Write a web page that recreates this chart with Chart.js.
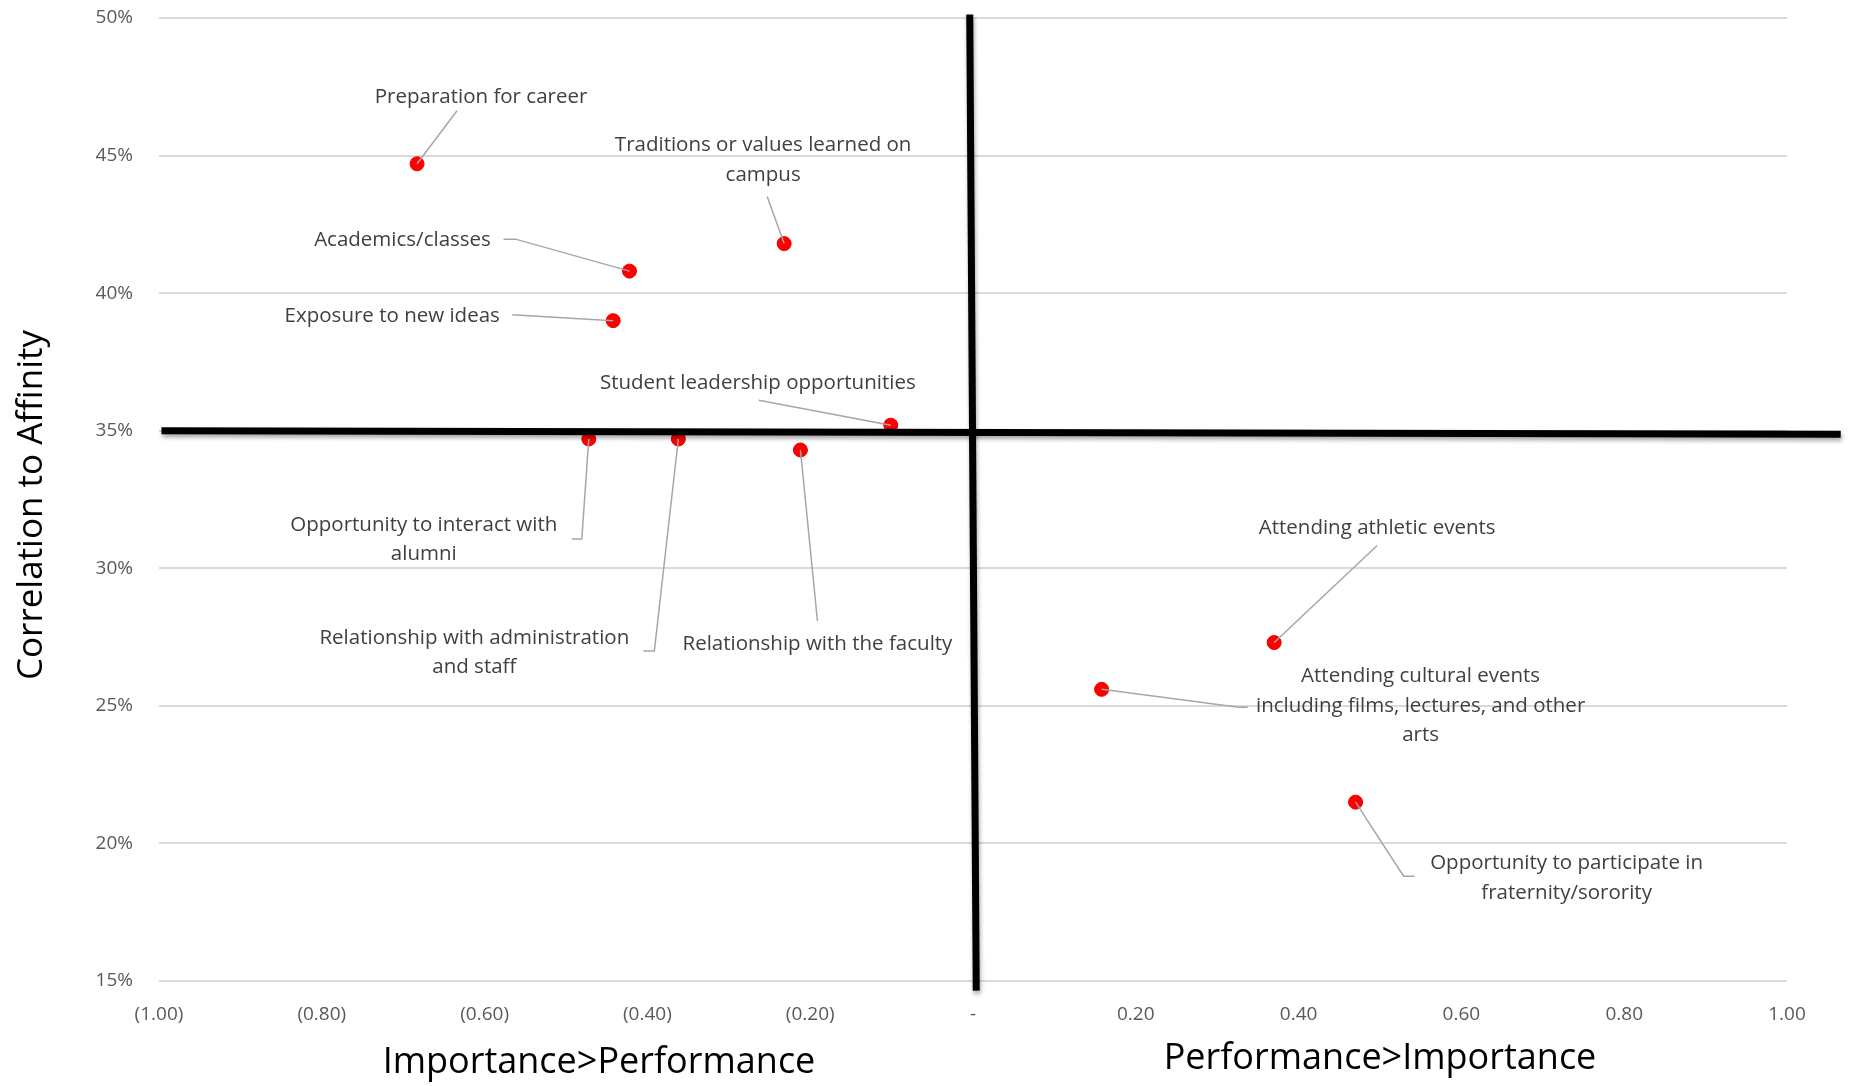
<!DOCTYPE html>
<html>
<head>
  <title>Importance vs Performance</title>
  <script src="https://cdn.jsdelivr.net/npm/chart.js"></script>
  <style>
    body {
      margin: 0;
      background: #fff;
    }
    canvas {
      display: block;
    }
  </style>
</head>
<body>
  <canvas id="quadChart" width="1850" height="1086"></canvas>

  <script>
    // --- data ---
    const items = [
      'Preparation for career',
      'Traditions or values learned on campus',
      'Academics/classes',
      'Exposure to new ideas',
      'Student leadership opportunities',
      'Opportunity to interact with alumni',
      'Relationship with administration and staff',
      'Relationship with the faculty',
      'Attending athletic events',
      'Attending cultural events including films, lectures, and other arts',
      'Opportunity to participate in fraternity/sorority'
    ];
    // performance minus importance
    const gap = [-0.683, -0.232, -0.422, -0.442, -0.101, -0.472, -0.362, -0.212, 0.370, 0.158, 0.470];
    const correlation = [0.447, 0.418, 0.408, 0.390, 0.352, 0.347, 0.347, 0.343, 0.273, 0.256, 0.215];

    // quadrant dividers (hand drawn in the original, a little tilted)
    const hLineX = [-0.997, 1.066];
    const hLineY = [0.350, 0.3487];
    const vLineX = [-0.004, 0.004];
    const vLineY = [0.5013, 0.1465];

    const yTitle = 'Correlation to Affinity';
    const xTitles = ['Importance>Performance', 'Performance>Importance'];

    // --- label placement (pixel offsets from each point) ---
    const callouts = [
      { dx: 64, dy: -67, leader: [[40, -53]] },
      { dx: -21, dy: -98, breaks: [5], leader: [[-17, -47]] },
      { dx: -227, dy: -31, leader: [[-114, -32], [-126, -32]] },
      { dx: -221, dy: -5, leader: [[-101, -6]] },
      { dx: -133, dy: -42, leader: [[-132, -25]] },
      { dx: -165, dy: 86, breaks: [4], leader: [[-7, 100], [-17, 100]] },
      { dx: -204, dy: 199, breaks: [3], leader: [[-24, 212], [-35, 212]] },
      { dx: 17, dy: 194, leader: [[17, 171]] },
      { dx: 103, dy: -114, leader: [[103, -97]] },
      { dx: 319, dy: -13, breaks: [3, 8], leader: [[137, 18], [146, 18]] },
      { dx: 211, dy: 61, breaks: [4], leader: [[48, 74], [59, 74]] }
    ];

    const FONT = '"Open Sans", "Noto Sans", sans-serif';

    function splitLines(text, breaks) {
      if (!breaks) return [text];
      const words = text.split(' ');
      const out = [];
      let start = 0;
      breaks.concat([words.length]).forEach(b => {
        out.push(words.slice(start, b).join(' '));
        start = b;
      });
      return out;
    }

    const calloutPlugin = {
      id: 'callouts',
      beforeDatasetDraw(chart, args) {
        if (args.meta.dataset && chart.data.datasets[args.index].shadow) {
          const ctx = chart.ctx;
          ctx.save();
          ctx.shadowColor = 'rgba(0,0,0,0.35)';
          ctx.shadowBlur = 4;
          ctx.shadowOffsetX = 1;
          ctx.shadowOffsetY = 3;
        }
      },
      afterDatasetDraw(chart, args) {
        if (args.meta.dataset && chart.data.datasets[args.index].shadow) {
          chart.ctx.restore();
        }
      },
      afterDraw(chart) {
        const ctx = chart.ctx;
        const meta = chart.getDatasetMeta(2);
        ctx.save();
        ctx.font = '20.5px ' + FONT;
        ctx.textAlign = 'center';
        ctx.textBaseline = 'middle';
        meta.data.forEach((pt, i) => {
          const c = callouts[i];
          // leader line
          ctx.strokeStyle = '#a6a6a6';
          ctx.lineWidth = 1.5;
          ctx.beginPath();
          ctx.moveTo(pt.x, pt.y);
          c.leader.forEach(p => ctx.lineTo(pt.x + p[0], pt.y + p[1]));
          ctx.stroke();
          // text
          ctx.fillStyle = '#404040';
          splitLines(items[i], c.breaks).forEach((line, k) => {
            ctx.fillText(line, pt.x + c.dx, pt.y + c.dy + k * 29.5);
          });
        });

        // axis titles
        ctx.fillStyle = '#000';
        ctx.font = '36px ' + FONT;
        ctx.fillText(xTitles[0], 599, 1063);
        ctx.fillText(xTitles[1], 1380, 1059);
        ctx.translate(32, 505);
        ctx.rotate(-Math.PI / 2);
        ctx.font = '35px ' + FONT;
        ctx.fillText(yTitle, 0, 0);
        ctx.restore();
      }
    };

    const ctx = document.getElementById('quadChart').getContext('2d');
    new Chart(ctx, {
      type: 'scatter',
      data: {
        datasets: [
          {
            label: 'divider-h',
            data: hLineX.map((x, i) => ({ x, y: hLineY[i] })),
            showLine: true,
            borderColor: '#000',
            borderWidth: 7,
            pointRadius: 0,
            clip: false,
            shadow: true
          },
          {
            label: 'divider-v',
            data: vLineX.map((x, i) => ({ x, y: vLineY[i] })),
            showLine: true,
            borderColor: '#000',
            borderWidth: 7,
            pointRadius: 0,
            clip: false,
            shadow: true
          },
          {
            label: 'items',
            data: gap.map((x, i) => ({ x, y: correlation[i] })),
            backgroundColor: '#ff0000',
            borderColor: '#e60000',
            borderWidth: 1,
            pointRadius: 7,
            clip: false
          }
        ]
      },
      options: {
        responsive: false,
        animation: false,
        layout: { padding: { left: 0, top: 18, right: 63, bottom: 0 } },
        plugins: {
          legend: { display: false },
          tooltip: { enabled: false }
        },
        scales: {
          x: {
            min: -1,
            max: 1,
            afterFit(scale) {
              scale.height = 105;
              scale.paddingLeft = 0;
              scale.paddingRight = 0;
            },
            grid: { display: false },
            border: { display: false },
            ticks: {
              stepSize: 0.2,
              padding: 14,
              color: '#595959',
              font: { family: FONT, size: 19 },
              callback(v) {
                if (Math.abs(v) < 1e-9) return '-';
                const s = Math.abs(v).toFixed(2);
                return v < 0 ? '(' + s + ')' : s;
              }
            }
          },
          y: {
            min: 0.15,
            max: 0.5,
            afterFit(scale) {
              scale.width = 159;
              scale.paddingTop = 0;
              scale.paddingBottom = 0;
            },
            grid: { color: '#d9d9d9', lineWidth: 2, drawTicks: false },
            border: { display: false },
            ticks: {
              stepSize: 0.05,
              padding: 26,
              color: '#595959',
              font: { family: FONT, size: 19 },
              callback: v => Math.round(v * 100) + '%'
            }
          }
        }
      },
      plugins: [calloutPlugin]
    });
  </script>
</body>
</html>
